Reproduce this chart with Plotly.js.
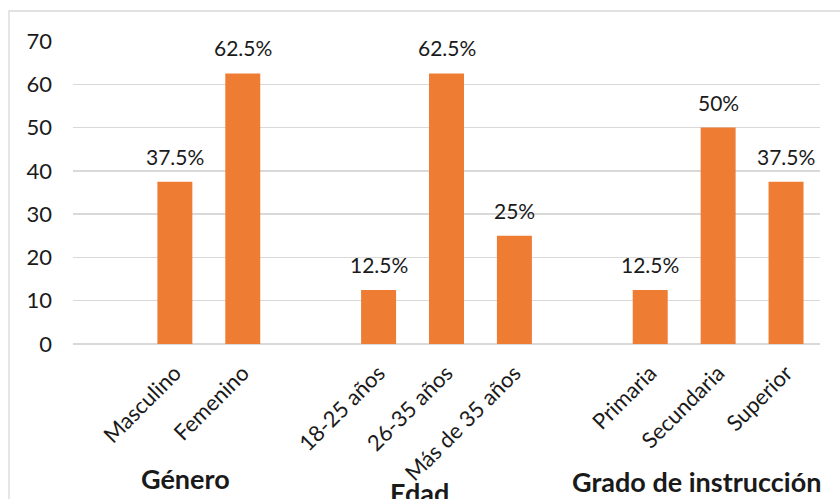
<!DOCTYPE html>
<html>
<head>
<meta charset="utf-8">
<script src="https://cdn.plot.ly/plotly-3.0.1.min.js"></script>
<style>html,body{margin:0;padding:0;background:#fff;}#chart{width:840px;height:499px;}</style>
</head>
<body>
<div id="chart"></div>
<script>
// Category slots (blank slots separate the groups, as in the original)
const categories = [" ", "Masculino", "Femenino", "  ", "18-25 años", "26-35 años", "Más de 35 años", "   ", "Primaria", "Secundaria", "Superior"];
const values = [null, 37.5, 62.5, null, 12.5, 62.5, 25, null, 12.5, 50, 37.5];
const valueLabels = ["", "37.5%", "62.5%", "", "12.5%", "62.5%", "25%", "", "12.5%", "50%", "37.5%"];
const groupNames = ["Género", "Edad", "Grado de instrucción"];
const yTicks = [0, 10, 20, 30, 40, 50, 60, 70];

const FONT = "Lato, 'Open Sans', sans-serif";
const TXT = "#1a1a1a";

const trace = {
  type: "bar",
  x: categories,
  y: values,
  marker: {color: "#EE7C32"},
  hoverinfo: "skip"
};

const dataAnn = [];
categories.forEach((c, i) => {
  if (values[i] === null) return;
  dataAnn.push({
    x: c, y: values[i], xref: "x", yref: "y",
    text: valueLabels[i], showarrow: false,
    yanchor: "bottom", yshift: 11,
    font: {family: FONT, size: 21, color: TXT}
  });
});

const groupPos = [[0.150, -0.445], [0.4645, -0.49], [0.835, -0.455]];
const groupAnn = groupNames.map((g, i) => ({
  x: groupPos[i][0], y: groupPos[i][1], xref: "paper", yref: "paper",
  text: "<b>" + g + "</b>", showarrow: false,
  xanchor: "center", yanchor: "middle",
  font: {family: FONT, size: 27, color: TXT}
}));

const layout = {
  width: 840, height: 499,
  margin: {l: 73, r: 20, t: 41, b: 155},
  paper_bgcolor: "#fff", plot_bgcolor: "#fff",
  showlegend: false,
  bargap: 0.485,
  xaxis: {
    type: "category",
    categoryorder: "array", categoryarray: categories,
    range: [-0.5, categories.length - 0.5],
    tickangle: -45,
    tickfont: {family: FONT, size: 22, color: TXT},
    showgrid: false, showline: false, ticks: "", zeroline: false,
    ticklabelstandoff: 11,
    fixedrange: true
  },
  yaxis: {
    range: [0, 70],
    tickvals: yTicks,
    tickfont: {family: FONT, size: 22, color: TXT},
    gridcolor: "#D9D9D9", gridwidth: 1.3,
    zeroline: true, zerolinecolor: "#D9D9D9", zerolinewidth: 1.3,
    showline: false, ticks: "",
    ticklabelstandoff: 20,
    fixedrange: true
  },
  annotations: dataAnn.concat(groupAnn),
  shapes: [{
    type: "rect", xref: "paper", yref: "paper",
    x0: -0.0857, x1: 1.04, y0: -0.6, y1: 1.099,
    line: {color: "#D9D9D9", width: 1.3}, fillcolor: "rgba(0,0,0,0)", layer: "below"
  }]
};

Plotly.newPlot("chart", [trace], layout, {displayModeBar: false, staticPlot: true});
</script>
</body>
</html>
